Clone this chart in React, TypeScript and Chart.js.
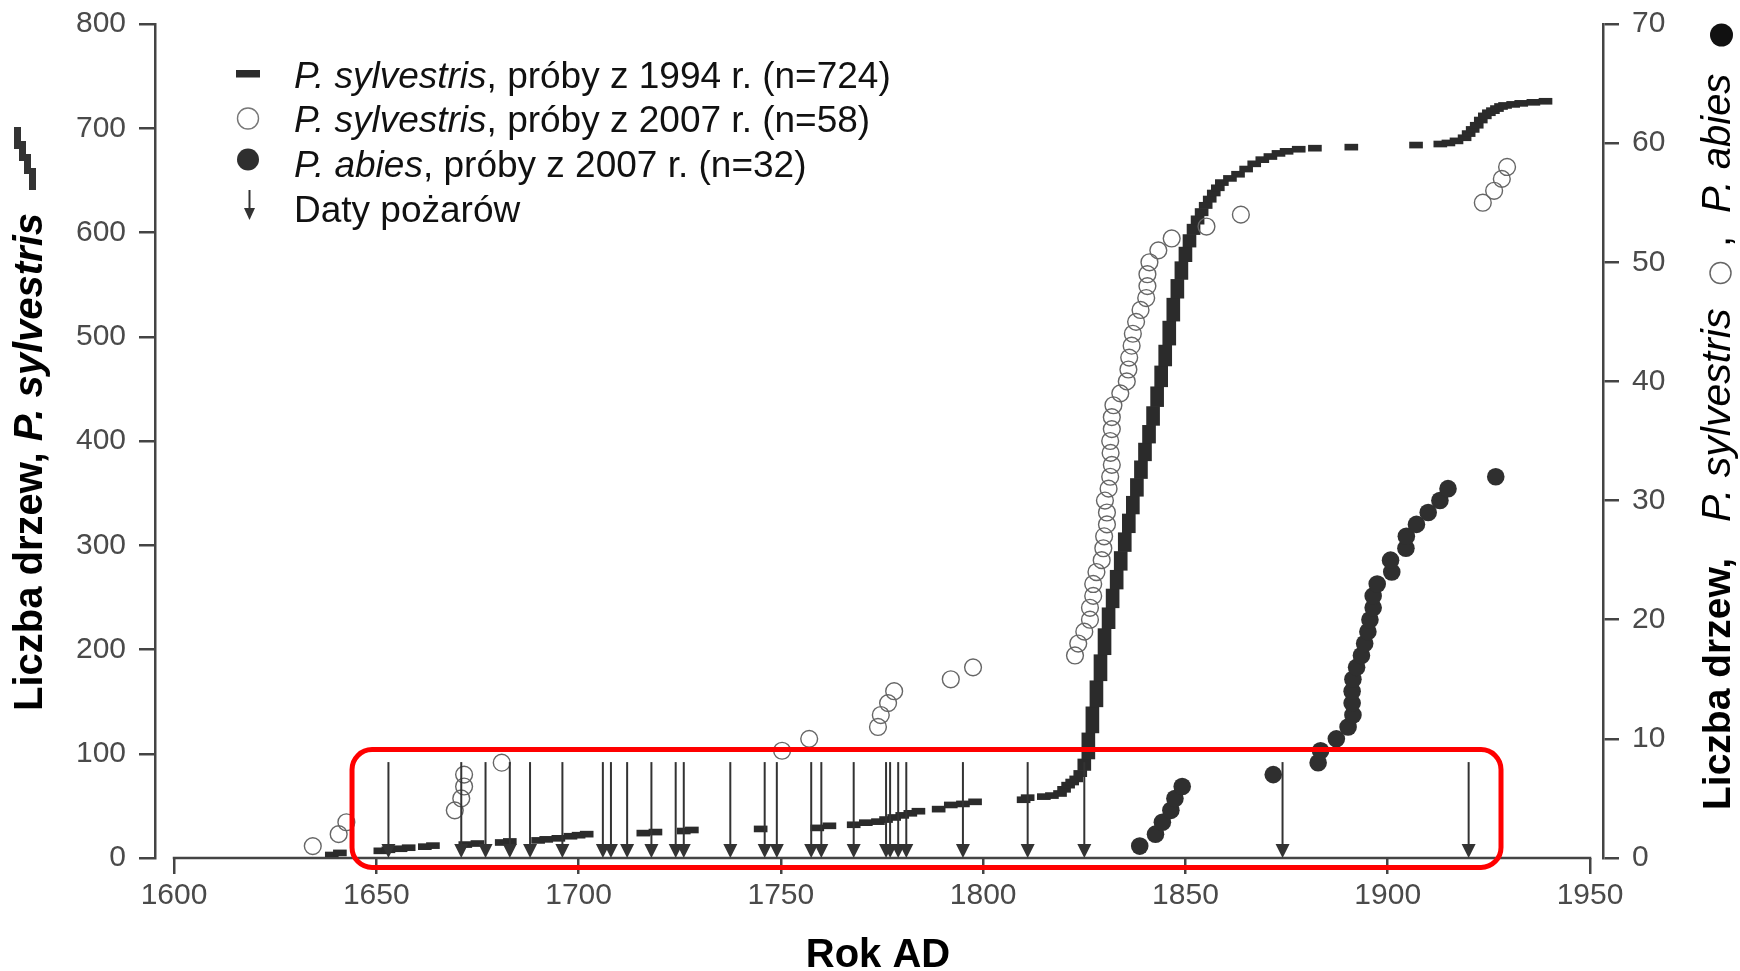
import React, { useEffect, useRef } from "react";
import { Chart, registerables } from "chart.js";

Chart.register(...registerables);

// ---------- data ----------
const X_TICKS = [1600, 1650, 1700, 1750, 1800, 1850, 1900, 1950];

// P. sylvestris, 1994 samples: year of establishment -> cumulative number of trees (left axis)
const SYL1994_YEARS = [
  1639, 1641, 1651, 1653, 1656, 1658, 1662, 1664, 1672, 1675, 1681, 1683, 1690, 1692,
  1695, 1698, 1700, 1702, 1716, 1719, 1726, 1728, 1745, 1759, 1762, 1768, 1771, 1774,
  1776, 1778, 1780, 1782, 1784, 1789, 1792, 1795, 1798, 1810, 1811, 1815, 1817, 1819,
  1820, 1821, 1822, 1823, 1824, 1825, 1826, 1827, 1828, 1829, 1830, 1831, 1832, 1833,
  1834, 1835, 1836, 1837, 1838, 1839, 1840, 1841, 1842, 1843, 1844, 1845, 1846, 1847,
  1848, 1849, 1850, 1851, 1852, 1853, 1854, 1855, 1856, 1857, 1858, 1859, 1861, 1863,
  1865, 1867, 1869, 1871, 1873, 1875, 1878, 1882, 1891, 1907, 1913, 1915, 1917, 1919,
  1920, 1921, 1922, 1923, 1924, 1925, 1926, 1927, 1928, 1929, 1931, 1933, 1936, 1939,
];
const SYL1994_COUNTS = [
  2, 4, 5, 6, 7, 8, 9, 10, 11, 12, 13, 14, 15, 16,
  18, 19, 20, 21, 22, 23, 24, 25, 26, 28, 29, 31, 32, 34,
  36, 38, 40, 42, 44, 48, 49, 51, 53, 55, 56, 57, 59, 63,
  67, 70, 73, 78, 84, 95, 120, 145, 170, 195, 220, 240, 258, 276,
  294, 312, 330, 347, 364, 381, 398, 415, 433, 452, 472, 492, 515, 537,
  555, 572, 586, 598, 608, 616, 623, 629, 635, 640, 645, 649, 653, 658,
  663, 667, 670, 673, 675, 677, 678, 679, 681, 682, 683, 685, 688, 692,
  696, 700, 705, 709, 712, 714, 716, 718, 719, 720, 721, 722, 723, 724,
];

// P. sylvestris, 2007 samples (right axis)
const SYL2007_YEARS = [
  1634.3, 1640.7, 1642.6, 1669.4, 1671, 1671.7, 1671.7, 1681, 1750.3, 1757,
  1774, 1774.7, 1776.5, 1778, 1792, 1797.5, 1822.7, 1823.5, 1825, 1826.4,
  1826.4, 1827.2, 1827.2, 1828, 1829.3, 1829.7, 1829.9, 1830.6, 1830.6, 1830.1,
  1831, 1831.4, 1831.8, 1831.5, 1831.4, 1831.8, 1831.8, 1832.2, 1833.9, 1835.5,
  1835.9, 1836.1, 1836.7, 1837, 1837.8, 1838.9, 1840.3, 1840.6, 1840.6, 1841.1,
  1843.3, 1846.6, 1855.2, 1863.7, 1923.5, 1926.3, 1928.2, 1929.5,
];
const SYL2007_COUNTS = [
  1, 2, 3, 4, 5, 6, 7, 8, 9, 10,
  11, 12, 13, 14, 15, 16, 17, 18, 19, 20,
  21, 22, 23, 24, 25, 26, 27, 28, 29, 30,
  31, 32, 33, 34, 35, 36, 37, 38, 39, 40,
  41, 42, 43, 44, 45, 46, 47, 48, 49, 50,
  51, 52, 53, 54, 55, 56, 57, 58,
];

// P. abies, 2007 samples (right axis)
const ABIES_YEARS = [
  1838.7, 1842.6, 1844.3, 1846.4, 1847.4, 1849.2, 1871.7, 1882.8, 1883.4, 1887.3,
  1890.2, 1891.4, 1891.2, 1891.2, 1891.4, 1892.3, 1893.5, 1894.3, 1895.1, 1895.6,
  1896.4, 1896.4, 1897.4, 1901, 1900.7, 1904.5, 1904.6, 1907.1, 1910, 1912.9,
  1914.9, 1926.7,
];
const ABIES_COUNTS = [
  1, 2, 3, 4, 5, 6, 7, 8, 9, 10,
  11, 12, 13, 14, 15, 16, 17, 18, 19, 20,
  21, 22, 23, 24, 25, 26, 27, 28, 29, 30,
  31, 32,
];

// fire dates
const FIRE_YEARS = [
  1653, 1671, 1677, 1683, 1688, 1696, 1706, 1708, 1712, 1718, 1724, 1726, 1737.5,
  1746, 1749, 1757.5, 1760, 1768, 1776, 1777, 1779, 1781, 1795, 1811, 1825, 1874, 1920,
];
const FIRE_ARROW_TOP = 92; // left-axis value where the arrows start

// highlighted region (red rounded box), in data units
const BOX_YEARS = [1644, 1928];
const BOX_COUNTS = [-9, 104];

// ---------- style ----------
const FF = '"Liberation Sans", Arial, Helvetica, sans-serif';
const AXIS = "#444444";
const TICK = "#4a4a4a";
const DARK = "#2b2b2b";

function drawRuns(ctx: CanvasRenderingContext2D, x: number, y: number, runs: { t: string; f: string }[]) {
  let cx = x;
  for (const r of runs) {
    ctx.font = r.f;
    ctx.fillText(r.t, cx, y);
    cx += ctx.measureText(r.t).width;
  }
}

const decorPlugin = {
  id: "decor",
  beforeDatasetsDraw(chart: any) {
    const { ctx } = chart;
    const xs = chart.scales.x;
    const yl = chart.scales.y;
    const y0 = yl.getPixelForValue(0);
    ctx.save();
    ctx.strokeStyle = AXIS;
    ctx.lineWidth = 2.5;
    ctx.beginPath();
    ctx.moveTo(xs.getPixelForValue(X_TICKS[0]) - 1.25, y0);
    ctx.lineTo(xs.getPixelForValue(X_TICKS[X_TICKS.length - 1]) + 1.25, y0);
    ctx.stroke();
    ctx.restore();
  },
  afterDatasetsDraw(chart: any) {
    const { ctx } = chart;
    const xs = chart.scales.x;
    const yl = chart.scales.y;
    const y0 = yl.getPixelForValue(0);
    const yt = yl.getPixelForValue(FIRE_ARROW_TOP);
    ctx.save();
    ctx.strokeStyle = "#333";
    ctx.fillStyle = "#333";
    ctx.lineWidth = 2;
    for (const yr of FIRE_YEARS) {
      const px = xs.getPixelForValue(yr);
      ctx.beginPath();
      ctx.moveTo(px, yt);
      ctx.lineTo(px, y0 - 10);
      ctx.stroke();
      ctx.beginPath();
      ctx.moveTo(px - 7, y0 - 14);
      ctx.lineTo(px + 7, y0 - 14);
      ctx.lineTo(px, y0);
      ctx.closePath();
      ctx.fill();
    }
    ctx.restore();
  },
  afterDraw(chart: any) {
    const { ctx } = chart;
    const xs = chart.scales.x;
    const yl = chart.scales.y;
    ctx.save();

    // red box
    const bx0 = xs.getPixelForValue(BOX_YEARS[0]);
    const bx1 = xs.getPixelForValue(BOX_YEARS[1]);
    const by0 = yl.getPixelForValue(BOX_COUNTS[1]);
    const by1 = yl.getPixelForValue(BOX_COUNTS[0]);
    ctx.strokeStyle = "#ff0000";
    ctx.lineWidth = 5;
    ctx.beginPath();
    (ctx as any).roundRect(bx0, by0, bx1 - bx0, by1 - by0, 20);
    ctx.stroke();

    // legend
    ctx.fillStyle = "#111";
    ctx.textAlign = "left";
    ctx.textBaseline = "alphabetic";
    const it = `italic 37px ${FF}`;
    const rg = `37px ${FF}`;
    const tx = 294;
    drawRuns(ctx, tx, 87.5, [{ t: "P. sylvestris", f: it }, { t: ", próby z 1994 r. (n=724)", f: rg }]);
    drawRuns(ctx, tx, 132, [{ t: "P. sylvestris", f: it }, { t: ", próby z 2007 r. (n=58)", f: rg }]);
    drawRuns(ctx, tx, 176.5, [{ t: "P. abies", f: it }, { t: ", próby z 2007 r. (n=32)", f: rg }]);
    drawRuns(ctx, tx, 221.5, [{ t: "Daty pożarów", f: rg }]);
    // legend markers
    ctx.fillStyle = DARK;
    ctx.fillRect(236, 70, 24, 7.5);
    ctx.strokeStyle = "#777";
    ctx.lineWidth = 1.4;
    ctx.beginPath();
    ctx.arc(248, 118.5, 10.5, 0, Math.PI * 2);
    ctx.stroke();
    ctx.fillStyle = "#2f2f2f";
    ctx.beginPath();
    ctx.arc(248, 159.5, 11, 0, Math.PI * 2);
    ctx.fill();
    ctx.strokeStyle = "#333";
    ctx.fillStyle = "#333";
    ctx.lineWidth = 2;
    ctx.beginPath();
    ctx.moveTo(249.5, 190);
    ctx.lineTo(249.5, 210);
    ctx.stroke();
    ctx.beginPath();
    ctx.moveTo(244, 208);
    ctx.lineTo(255, 208);
    ctx.lineTo(249.5, 220);
    ctx.closePath();
    ctx.fill();

    // x title
    ctx.fillStyle = "#000";
    ctx.textAlign = "center";
    ctx.font = `bold 40px ${FF}`;
    ctx.fillText("Rok AD", 878, 967);

    // left title (rotated)
    ctx.textAlign = "left";
    ctx.save();
    ctx.translate(42, 0);
    ctx.rotate(-Math.PI / 2);
    drawRuns(ctx, -711, 0, [
      { t: "Liczba drzew, ", f: `bold 40px ${FF}` },
      { t: "P. sylvestris", f: `italic bold 40px ${FF}` },
    ]);
    ctx.restore();
    // left title marker (small staircase of dashes)
    ctx.fillStyle = "#333";
    ctx.fillRect(14, 127, 7, 22);
    ctx.fillRect(19, 141, 7, 20);
    ctx.fillRect(24, 154, 7, 20);
    ctx.fillRect(29, 168, 7, 22);

    // right title (rotated)
    ctx.fillStyle = "#000";
    ctx.save();
    ctx.translate(1730, 0);
    ctx.rotate(-Math.PI / 2);
    ctx.font = `bold 39px ${FF}`;
    ctx.fillText("Liczba drzew,", -810, 0);
    ctx.font = `italic 41px ${FF}`;
    ctx.fillText("P. sylvestris", -522, 0);
    ctx.font = `40px ${FF}`;
    ctx.fillText(",", -247, 0);
    ctx.font = `italic 40px ${FF}`;
    ctx.fillText("P. abies", -213, 0);
    ctx.restore();
    ctx.strokeStyle = "#666";
    ctx.lineWidth = 1.5;
    ctx.beginPath();
    ctx.arc(1720.5, 273, 10.5, 0, Math.PI * 2);
    ctx.stroke();
    ctx.fillStyle = "#111";
    ctx.beginPath();
    ctx.arc(1721.5, 35, 11.5, 0, Math.PI * 2);
    ctx.fill();

    ctx.restore();
  },
};

export default function App() {
  const ref = useRef<HTMLCanvasElement | null>(null);

  useEffect(() => {
    if (!ref.current) return;
    const tickFont = { family: FF, size: 30 };
    const gridCommon = {
      display: true,
      drawOnChartArea: false,
      drawTicks: true,
      tickLength: 16,
      tickWidth: 2.5,
      tickColor: AXIS,
      color: AXIS,
      lineWidth: 2.5,
    };
    const fitY = (w: number) => (s: any) => {
      s.width = w;
      s.paddingTop = 0;
      s.paddingBottom = 0;
    };
    const chart = new Chart(ref.current, {
      type: "scatter",
      data: {
        datasets: [
          {
            type: "scatter",
            label: "P. abies, próby z 2007 r. (n=32)",
            data: ABIES_YEARS.map((x, i) => ({ x, y: ABIES_COUNTS[i] })),
            yAxisID: "y2",
            pointRadius: 8.8,
            pointBackgroundColor: "#2f2f2f",
            pointBorderColor: "#2f2f2f",
            pointBorderWidth: 0,
            order: 1,
          } as any,
          {
            type: "scatter",
            label: "P. sylvestris, próby z 2007 r. (n=58)",
            data: SYL2007_YEARS.map((x, i) => ({ x, y: SYL2007_COUNTS[i] })),
            yAxisID: "y2",
            pointRadius: 8.4,
            pointBackgroundColor: "rgba(255,255,255,0)",
            pointBorderColor: "#666666",
            pointBorderWidth: 1.4,
            order: 2,
          } as any,
          {
            type: "bar",
            label: "P. sylvestris, próby z 1994 r. (n=724)",
            data: SYL1994_YEARS.map((x, i) => ({
              x,
              y: [i === 0 ? 0 : SYL1994_COUNTS[i - 1], SYL1994_COUNTS[i]],
            })),
            yAxisID: "y",
            backgroundColor: DARK,
            borderWidth: 0,
            barThickness: 13,
            minBarLength: 6,
            grouped: false,
            order: 3,
          } as any,
        ],
      },
      options: {
        responsive: false,
        devicePixelRatio: 1,
        animation: false,
        layout: { padding: { top: 24, left: 0, right: 0, bottom: 0 } },
        plugins: { legend: { display: false }, tooltip: { enabled: false }, title: { display: false } },
        scales: {
          x: {
            type: "linear",
            min: 1595.3,
            max: 1953.21,
            offset: false,
            afterBuildTicks: (s: any) => {
              s.ticks = X_TICKS.map((v) => ({ value: v }));
            },
            afterFit: (s: any) => {
              s.height = 113;
              s.paddingLeft = 0;
              s.paddingRight = 0;
            },
            border: { display: false },
            grid: { ...gridCommon, offset: false },
            ticks: {
              font: tickFont,
              color: TICK,
              padding: 4,
              autoSkip: false,
              maxRotation: 0,
              callback: (v: any) => String(v),
            },
          },
          y: {
            type: "linear",
            position: "left",
            min: 0,
            max: 800,
            afterFit: fitY(155),
            border: { display: true, color: AXIS, width: 2.5 },
            grid: gridCommon,
            ticks: { stepSize: 100, font: tickFont, color: TICK, padding: 13, callback: (v: any) => String(v) },
          },
          y2: {
            type: "linear",
            position: "right",
            min: 0,
            max: 70,
            afterFit: fitY(137),
            border: { display: true, color: AXIS, width: 2.5 },
            grid: gridCommon,
            ticks: { stepSize: 10, font: tickFont, color: TICK, padding: 13, callback: (v: any) => String(v) },
          },
        },
      } as any,
      plugins: [decorPlugin as any],
    });
    return () => chart.destroy();
  }, []);

  return (
    <div style={{ position: "fixed", left: 0, top: 0, width: 1740, height: 971, background: "#fff" }}>
      <canvas ref={ref} width={1740} height={971} style={{ display: "block", width: 1740, height: 971 }} />
    </div>
  );
}
